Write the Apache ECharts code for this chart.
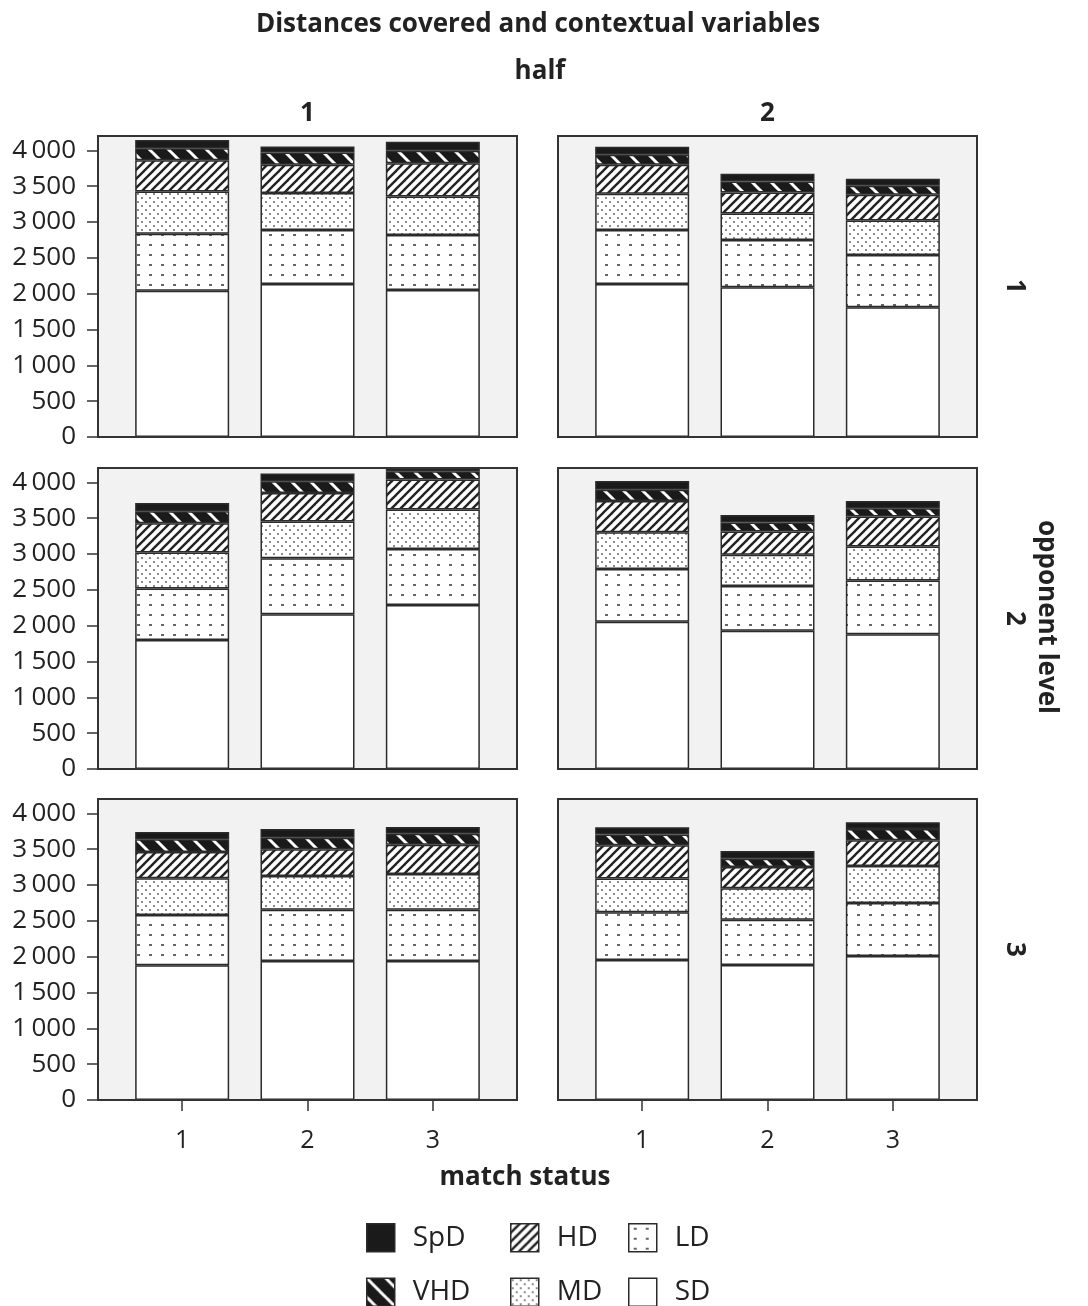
<!DOCTYPE html>
<html><head><meta charset="utf-8">
<script src="https://cdn.jsdelivr.net/npm/echarts@6/dist/echarts.min.js"></script>
<style>html,body{margin:0;padding:0;background:#fff}#c{width:1088px;height:1306px}</style>
</head><body><div id="c"></div>
<script>
// ---- data ----
const matchStatus = ['1', '2', '3'];
const halves = ['1', '2'];
const opponentLevels = ['1', '2', '3'];
const yTicks = [0, 500, 1000, 1500, 2000, 2500, 3000, 3500, 4000];
const components = ['SD', 'LD', 'MD', 'HD', 'VHD', 'SpD'];
// panel order: opp1-half1, opp1-half2, opp2-half1, opp2-half2, opp3-half1, opp3-half2
const SD  = [[2040, 2135, 2050], [2135, 2090, 1810], [1800, 2160, 2290], [2055, 1930, 1880], [1880, 1940, 1940], [1955, 1885, 2010]];
const LD  = [[795, 755, 770], [755, 660, 730], [720, 780, 780], [735, 625, 750], [700, 715, 715], [665, 630, 740]];
const MD  = [[590, 515, 535], [505, 370, 480], [500, 515, 550], [515, 435, 475], [515, 470, 500], [470, 440, 515]];
const HD  = [[435, 395, 465], [405, 290, 360], [410, 395, 420], [435, 325, 420], [365, 375, 405], [465, 295, 360]];
const VHD = [[170, 170, 175], [140, 155, 125], [165, 165, 115], [155, 125, 115], [180, 160, 155], [150, 115, 155]];
const SpD = [[115, 85, 125], [110, 110, 100], [115, 110, 45], [125, 105, 100], [100, 120, 95], [100, 110, 95]];
const compData = { SD, LD, MD, HD, VHD, SpD };

// ---- patterns ----
function mkPattern(w, h, draw) {
  const c = document.createElement('canvas');
  c.width = w; c.height = h;
  const ctx = c.getContext('2d');
  draw(ctx, w, h);
  return { image: c, repeat: 'repeat' };
}
const fills = {
  SD: '#ffffff',
  LD: mkPattern(12, 10, (ctx, w, h) => {
    ctx.fillStyle = '#fff'; ctx.fillRect(0, 0, w, h);
    ctx.fillStyle = '#666'; ctx.fillRect(5, 4, 3, 2);
  }),
  MD: mkPattern(8, 8, (ctx, w, h) => {
    ctx.fillStyle = '#fff'; ctx.fillRect(0, 0, w, h);
    ctx.fillStyle = '#8c8c8c'; ctx.fillRect(1, 1, 2, 2); ctx.fillRect(5, 5, 2, 2);
  }),
  HD: mkPattern(9, 9, (ctx, w, h) => {
    ctx.fillStyle = '#fff'; ctx.fillRect(0, 0, w, h);
    ctx.strokeStyle = '#222'; ctx.lineWidth = 2.4;
    for (const o of [-w, 0, w]) {
      ctx.beginPath(); ctx.moveTo(o - 1, h + 1); ctx.lineTo(o + w + 1, -1); ctx.stroke();
    }
  }),
  VHD: mkPattern(19, 19, (ctx, w, h) => {
    ctx.fillStyle = '#1a1a1a'; ctx.fillRect(0, 0, w, h);
    ctx.strokeStyle = '#fff'; ctx.lineWidth = 3;
    for (const o of [-w, 0, w]) {
      ctx.beginPath(); ctx.moveTo(o - 1, -1); ctx.lineTo(o + w + 1, h + 1); ctx.stroke();
    }
  }),
  SpD: '#1a1a1a'
};

// ---- layout ----
const FONT = '"Open Sans", "Noto Sans", sans-serif';
const TXT = '#222';
const colLeft = [98, 558];
const rowTop = [136, 468, 799];
const panelW = 419, panelH = 301, pad = 21.5;

const grids = [], xAxes = [], yAxes = [], series = [], graphics = [];
for (let r = 0; r < 3; r++) {
  for (let c = 0; c < 2; c++) {
    const p = r * 2 + c;
    graphics.push({
      type: 'rect', z: 0, silent: true,
      shape: { x: colLeft[c], y: rowTop[r], width: panelW, height: panelH },
      style: { fill: '#f2f2f2', stroke: '#333', lineWidth: 2 }
    });
    grids.push({ left: colLeft[c] + pad, top: rowTop[r], width: panelW - 2 * pad, height: panelH, containLabel: false });
    xAxes.push({
      gridIndex: p, type: 'category', data: matchStatus, show: r === 2,
      axisLine: { show: false },
      axisTick: { show: true, alignWithLabel: true, length: 11, lineStyle: { color: '#333', width: 1.5 } },
      axisLabel: { fontSize: 25, color: TXT, fontFamily: FONT, margin: 28 },
      splitLine: { show: false }
    });
    yAxes.push({
      gridIndex: p, type: 'value', min: 0, max: 4200, show: c === 0, offset: pad,
      axisLine: { show: false },
      axisTick: { show: true, length: 11, customValues: yTicks, lineStyle: { color: '#333', width: 1.5 } },
      axisLabel: {
        customValues: yTicks, fontSize: 26, color: TXT, fontFamily: FONT, margin: 22,
        formatter: v => v >= 1000 ? String(v).replace(/(\d)(\d{3})$/, '$1\u2009$2') : String(v)
      },
      splitLine: { show: false }
    });
    for (const comp of components) {
      series.push({
        type: 'bar', name: comp, xAxisIndex: p, yAxisIndex: p, stack: 's' + p,
        barWidth: 94, silent: true, z: 5,
        data: compData[comp][p],
        itemStyle: { color: fills[comp], borderColor: '#2b2b2b', borderWidth: 1.5 }
      });
    }
  }
}
// frame borders on top
for (let r = 0; r < 3; r++) for (let c = 0; c < 2; c++) {
  graphics.push({
    type: 'rect', z: 10, silent: true,
    shape: { x: colLeft[c], y: rowTop[r], width: panelW, height: panelH },
    style: { fill: null, stroke: '#333', lineWidth: 2 }
  });
}
function txt(x, y, text, opts = {}) {
  graphics.push({
    type: 'text', x, y, rotation: opts.rot || 0, z: 20, silent: true,
    style: {
      text, textAlign: 'center', textVerticalAlign: 'middle',
      fontSize: opts.size || 26, fontWeight: opts.weight || 'bold', fontFamily: FONT, fill: TXT
    }
  });
}
txt(538, 25, 'Distances covered and contextual variables');
txt(540, 72, 'half');
halves.forEach((h, c) => txt(colLeft[c] + panelW / 2, 114, h));
opponentLevels.forEach((o, r) => txt(1014, rowTop[r] + panelH / 2, o, { rot: -Math.PI / 2 }));
txt(1046, 617, 'opponent level', { rot: -Math.PI / 2 });
txt(525, 1178, 'match status');

const legendCols = [[366, ['SpD', 'VHD']], [510, ['HD', 'MD']], [628, ['LD', 'SD']]];
const legends = legendCols.map(([left, names]) => ({
  orient: 'vertical', left, top: 1223, height: 200, padding: 0,
  itemWidth: 28, itemHeight: 28, itemGap: 25,
  icon: 'rect', selectedMode: false, data: names,
  itemStyle: { borderColor: '#2b2b2b', borderWidth: 1.5 },
  textStyle: { fontSize: 28, lineHeight: 28, color: TXT, fontFamily: FONT, padding: [0, 0, 0, 13] }
}));

const chart = echarts.init(document.getElementById('c'), null, { renderer: 'canvas' });
chart.setOption({
  animation: false,
  backgroundColor: '#ffffff',
  grid: grids, xAxis: xAxes, yAxis: yAxes, series,
  legend: legends,
  graphic: graphics
});
</script></body></html>
